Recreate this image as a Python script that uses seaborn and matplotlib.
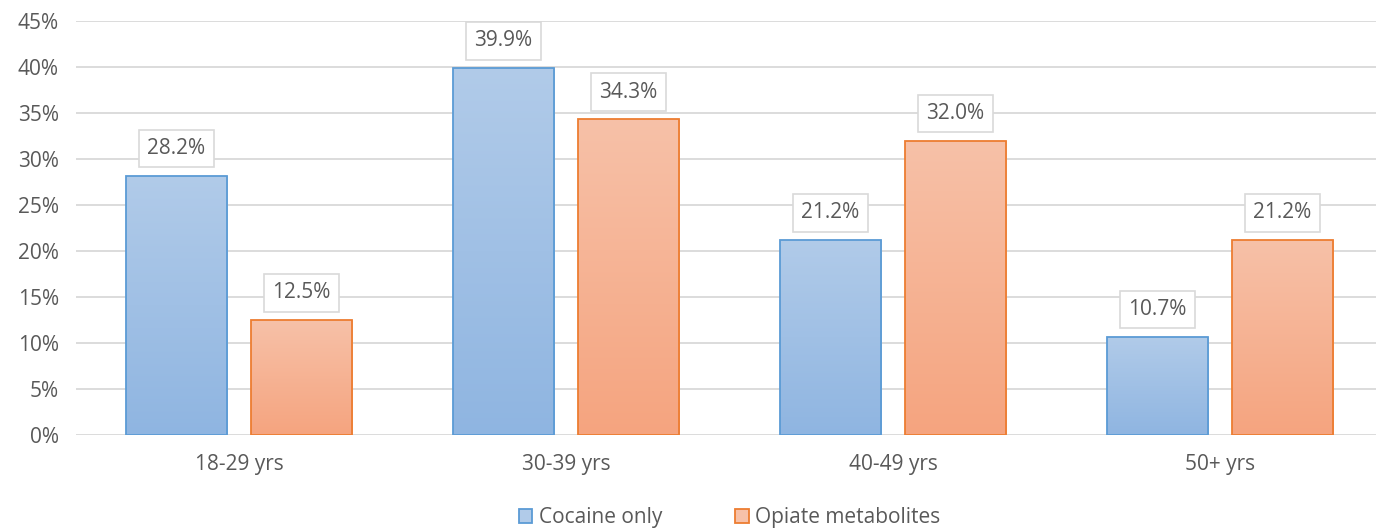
import matplotlib as mpl
import matplotlib.pyplot as plt
import numpy as np
import pandas as pd
import seaborn as sns
from matplotlib.patches import Patch

ageGroups = ["18-29 yrs", "30-39 yrs", "40-49 yrs", "50+ yrs"]
cocaine = [28.2, 39.9, 21.2, 10.7]
opiate = [12.5, 34.3, 32.0, 21.2]
seriesNames = ["Cocaine only", "Opiate metabolites"]

blueEdge = "#5b9bd5"
blueTop = "#b1cbe9"
blueBottom = "#8fb5e1"
orangeEdge = "#ed7d31"
orangeTop = "#f7c1a8"
orangeBottom = "#f5a47f"
textGray = "#595959"
gridGray = "#d9d9d9"

df = pd.DataFrame(
    {
        "age": ageGroups * 2,
        "value": cocaine + opiate,
        "series": [seriesNames[0]] * 4 + [seriesNames[1]] * 4,
    }
)

sns.set_style("white")
plt.rcParams["font.family"] = ["Open Sans", "DejaVu Sans"]
fs = 15

fig = plt.figure(figsize=(13.76, 5.31), dpi=100)
ax = fig.add_axes((75.5 / 1376, 96 / 531, 1308 / 1376, 414 / 531))

sns.barplot(
    data=df,
    x="age",
    y="value",
    hue="series",
    order=ageGroups,
    hue_order=seriesNames,
    palette=[blueEdge, orangeEdge],
    width=0.764,
    gap=0.19,
    legend=False,
    errorbar=None,
    ax=ax,
)

# gradient fill clipped to each bar
cmaps = {
    blueEdge: mpl.colors.LinearSegmentedColormap.from_list("b", [blueBottom, blueTop]),
    orangeEdge: mpl.colors.LinearSegmentedColormap.from_list("o", [orangeBottom, orangeTop]),
}
grad = np.linspace(0, 1, 256).reshape(-1, 1)
bars = list(ax.patches)
for i, bar in enumerate(bars):
    edge = blueEdge if i < 4 else orangeEdge
    x0, y0 = bar.get_x(), bar.get_y()
    w, h = bar.get_width(), bar.get_height()
    im = ax.imshow(
        grad,
        extent=[x0, x0 + w, y0, y0 + h],
        origin="lower",
        aspect="auto",
        cmap=cmaps[edge],
        zorder=2,
    )
    im.set_clip_path(bar)
    bar.set_facecolor("none")
    bar.set_edgecolor(edge)
    bar.set_linewidth(1.3)
    bar.set_zorder(3)
    ax.annotate(
        f"{h:.1f}%",
        (x0 + w / 2, y0 + h),
        xytext=(0, 12),
        textcoords="offset points",
        ha="center",
        va="bottom",
        fontsize=fs,
        color=textGray,
        bbox=dict(boxstyle="square,pad=0.4", fc="white", ec=gridGray, lw=1.2),
        zorder=4,
    )

ax.set_xlim(-0.5, 3.5)
ax.set_ylim(0, 45)
ax.set_yticks(range(0, 46, 5))
ax.set_yticklabels([f"{t}%" for t in range(0, 46, 5)])
ax.yaxis.grid(True, color=gridGray, lw=1.3)
ax.set_axisbelow(True)
for s in ax.spines.values():
    s.set_visible(False)
ax.tick_params(axis="both", length=0, labelsize=fs, labelcolor=textGray)
ax.tick_params(axis="y", pad=12)
ax.tick_params(axis="x", pad=14)
ax.set_xlabel("")
ax.set_ylabel("")

handles = [
    Patch(facecolor=blueTop, edgecolor=blueEdge, lw=1.3),
    Patch(facecolor=orangeTop, edgecolor=orangeEdge, lw=1.3),
]
ax.legend(
    handles,
    seriesNames,
    loc="center",
    bbox_to_anchor=(0.5, -0.2),
    ncol=2,
    frameon=False,
    fontsize=fs,
    labelcolor=textGray,
    handlelength=0.65,
    handleheight=0.65,
    handletextpad=0.3,
    columnspacing=3.5,
)

fig.savefig("out.png", dpi=100)
